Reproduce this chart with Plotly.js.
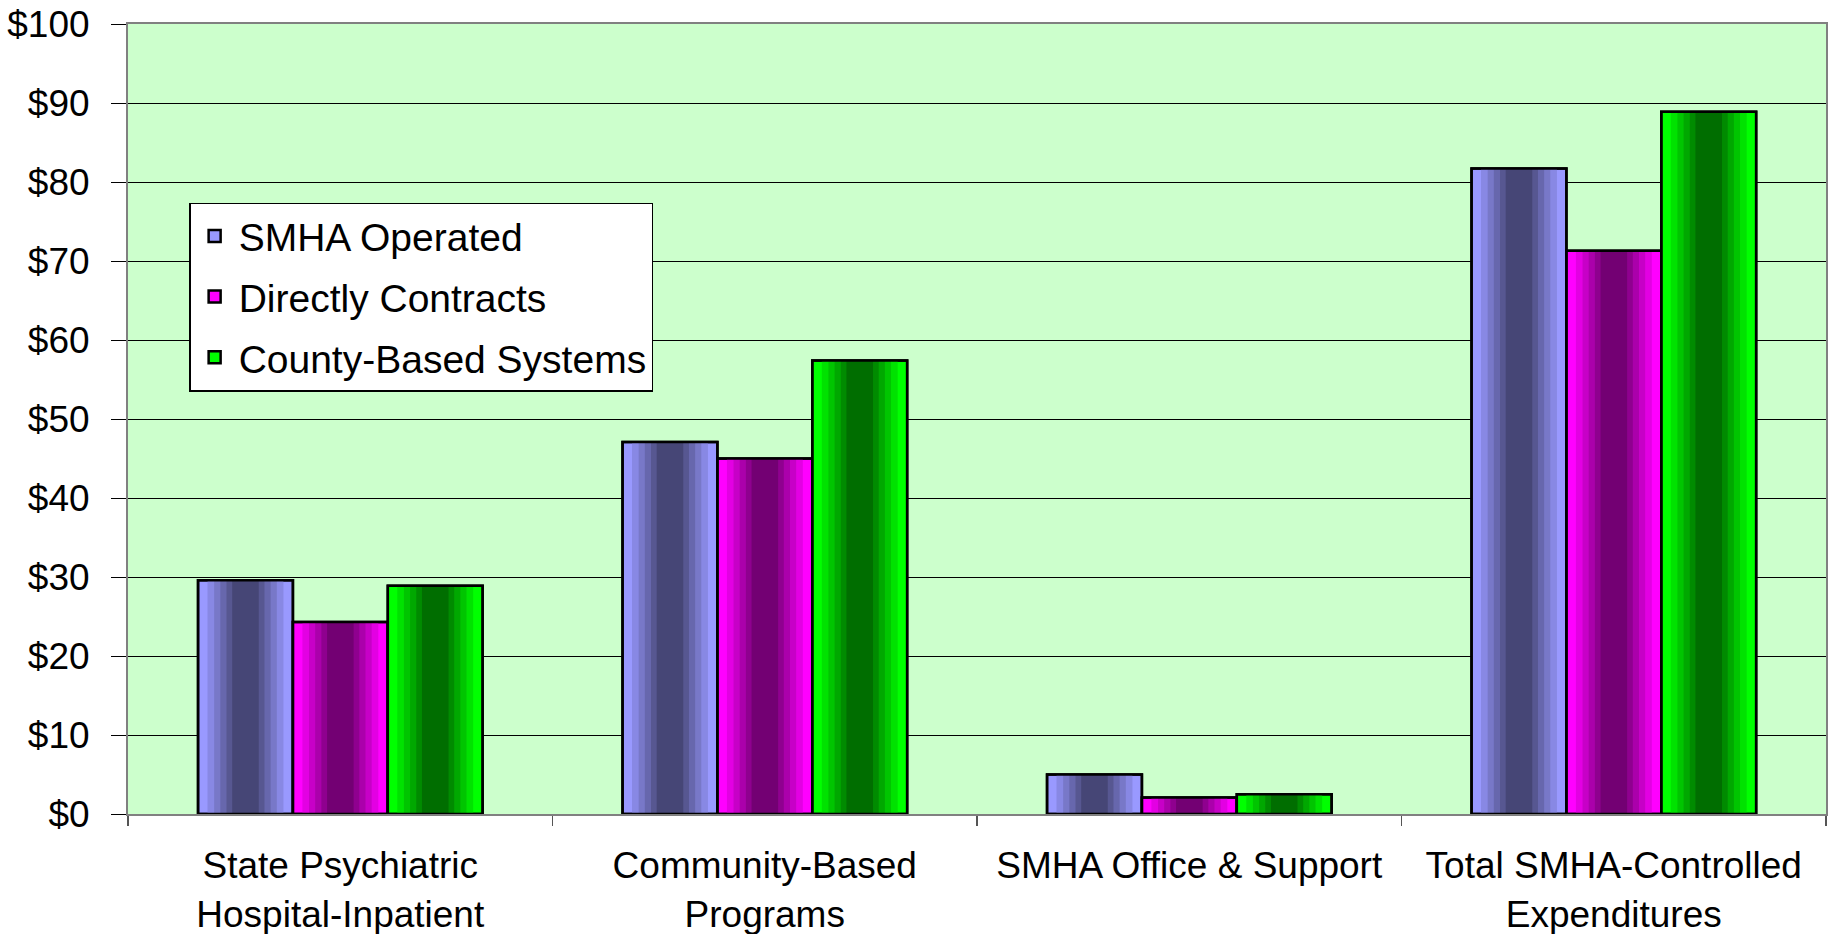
<!DOCTYPE html>
<html>
<head>
<meta charset="utf-8">
<script src="https://cdn.plot.ly/plotly-3.0.1.min.js"></script>
<style>html,body{margin:0;padding:0;background:#fff;}#chart{width:1830px;height:934px;}</style>
</head>
<body>
<div id="chart"></div>
<script>
// ---- data ----
const categories = [
  'State Psychiatric<br>Hospital-Inpatient',
  'Community-Based<br>Programs',
  'SMHA Office & Support',
  'Total SMHA-Controlled<br>Expenditures'
];
const seriesNames = ['SMHA Operated', 'Directly Contracts', 'County-Based Systems'];
const smhaOperated = [29.6, 47.1, 5.0, 81.7];
const directlyContracts = [24.3, 45.0, 2.1, 71.3];
const countyBased = [28.9, 57.4, 2.5, 88.9];
const yTickValues = [0, 10, 20, 30, 40, 50, 60, 70, 80, 90, 100];
const yTickLabels = yTickValues.map(v => '$' + v);

// ---- styles ----
const seriesValues = [smhaOperated, directlyContracts, countyBased];
const edgeColors = [[153,153,255],[255,0,255],[0,255,0]];
const centerColors = [[70,70,118],[115,0,115],[0,110,0]];
const barW = 0.2235, groupStart = -0.335;
const layerFrac = [1, 0.80, 0.66, 0.53, 0.40, 0.28];

function mix(a, b, t) {
  return 'rgb(' + a.map((v, i) => Math.round(v + (b[i] - v) * t)).join(',') + ')';
}

const traces = [];
seriesValues.forEach((vals, s) => {
  const off = groupStart + s * barW;
  layerFrac.forEach((f, k) => {
    const w = barW * f;
    traces.push({
      type: 'bar', x: categories, y: vals,
      name: seriesNames[s], legendgroup: 'g' + s,
      showlegend: k === 0,
      width: w, offset: off + (barW - w) / 2,
      marker: {color: mix(edgeColors[s], centerColors[s], k / (layerFrac.length - 1)),
               line: {color: '#000', width: k === 0 ? 2.5 : 0}},
      hoverinfo: k === 0 ? 'x+y+name' : 'skip'
    });
  });
  traces.push({
    type: 'bar', x: categories, y: vals, showlegend: false, hoverinfo: 'skip',
    width: barW, offset: off,
    marker: {color: 'rgba(0,0,0,0)', line: {color: '#000', width: 2.5}}
  });
});

const font = {family: 'Liberation Sans, Arial, sans-serif', size: 37, color: '#000'};

const layout = {
  width: 1830, height: 934,
  margin: {l: 128, r: 4, t: 24, b: 120},
  paper_bgcolor: '#fff', plot_bgcolor: '#ccffcc',
  barmode: 'overlay',
  font: font,
  showlegend: true,
  legend: {
    x: 0.036, y: 0.774, xanchor: 'left', yanchor: 'top',
    bgcolor: '#fff', bordercolor: '#000', borderwidth: 1.5,
    font: {family: font.family, size: 39, color: '#000'},
    traceorder: 'grouped', tracegroupgap: 7, itemwidth: 38
  },
  xaxis: {
    type: 'category', range: [-0.5, 3.5],
    tickson: 'boundaries', ticks: 'outside', ticklen: 10, tickcolor: '#555', tickwidth: 1.5,
    showline: true, linecolor: '#808080', linewidth: 2, mirror: true,
    showgrid: false, tickfont: font, ticklabelstandoff: 18
  },
  yaxis: {
    range: [0, 100], tickmode: 'array', tickvals: yTickValues, ticktext: yTickLabels,
    ticks: 'outside', ticklen: 15, tickcolor: '#000', tickwidth: 1,
    showgrid: true, gridcolor: '#000', gridwidth: 1,
    showline: true, linecolor: '#808080', linewidth: 2, mirror: true,
    zeroline: false, tickfont: font, ticklabelstandoff: 14
  }
};

Plotly.newPlot('chart', traces, layout, {displayModeBar: false, staticPlot: true});
</script>
</body>
</html>
